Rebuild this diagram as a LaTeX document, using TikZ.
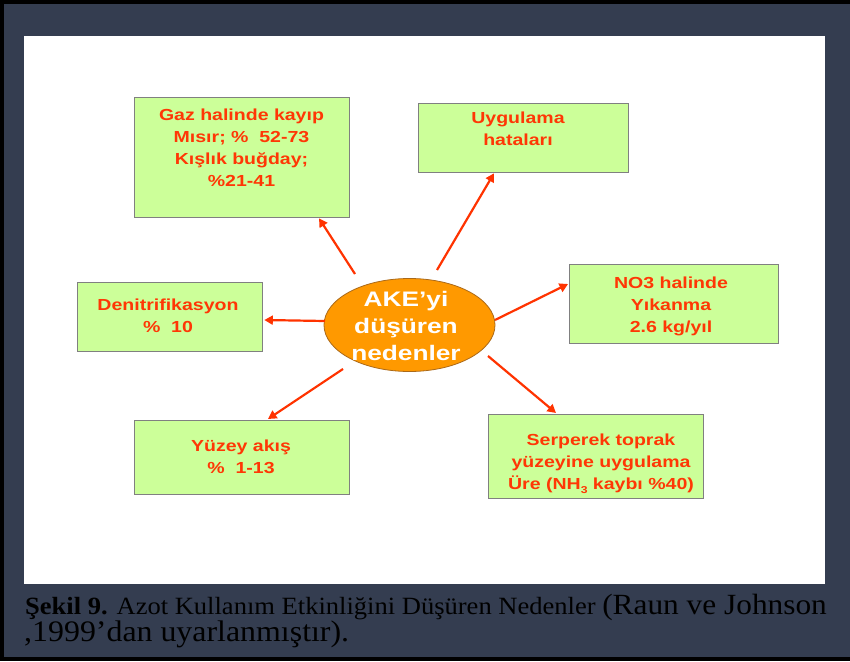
\documentclass[tikz,border=0pt]{standalone}
\usepackage{fontspec}
\setmainfont{Liberation Serif}
\newfontfamily\boxfont[FakeStretch=1.22]{Liberation Sans}
\newfontfamily\ellfont[FakeStretch=1.25]{Liberation Sans}
\newfontfamily\capfont[FakeStretch=1.07]{Liberation Serif}
\usetikzlibrary{shapes.geometric,arrows.meta,calc}
\definecolor{navy}{RGB}{52,61,80}
\definecolor{boxgreen}{RGB}{204,255,153}
\definecolor{boxedge}{RGB}{128,128,128}
\definecolor{redtxt}{RGB}{255,55,5}
\definecolor{arrred}{RGB}{255,51,0}
\definecolor{orangefill}{RGB}{255,153,0}
\definecolor{orangeedge}{RGB}{170,105,25}
\tikzset{
  greenbox/.style={draw=boxedge, line width=1.3pt, fill=boxgreen, rectangle, inner sep=0pt, anchor=north west},
  btxt/.style={text=redtxt, align=center, inner sep=0pt, anchor=north, font=\boxfont\bfseries\fontsize{16}{22}\selectfont},
  etxt/.style={text=white, align=center, inner sep=0pt, anchor=north, font=\ellfont\bfseries\fontsize{21}{27}\selectfont},
  centerell/.style={ellipse, draw=orangeedge, line width=0.8pt, fill=orangefill, inner sep=0pt},
  arr/.style={draw=arrred, line width=2.2pt, -{Triangle[length=8.5pt,width=9pt]}},
  captxt/.style={text=black, inner sep=0pt, anchor=base west}
}
\begin{document}
\begin{tikzpicture}[x=1pt,y=-1pt]
\useasboundingbox (0,0) rectangle (850,661);
% frame
\fill[black] (0,0) rectangle (850,661);
\fill[navy] (4,4) rectangle (850,657);
\fill[white] (24,36) rectangle (825,584);

% boxes
\node[greenbox, minimum width=215pt, minimum height=120pt] (gaz) at (134,97) {};
\node[greenbox, minimum width=210pt, minimum height=69pt] (uyg) at (418,103) {};
\node[greenbox, minimum width=209pt, minimum height=79pt] (no3) at (569,264) {};
\node[greenbox, minimum width=215pt, minimum height=84pt] (ser) at (488,414) {};
\node[greenbox, minimum width=185pt, minimum height=69pt] (den) at (77,282) {};
\node[greenbox, minimum width=215pt, minimum height=74pt] (yuz) at (134,420) {};

% box texts
\node[btxt] (gazt) at (241.5,109) {Gaz halinde kayıp\\Mısır; \%\ \ 52-73\\Kışlık buğday;\\\%21-41};
\node[btxt] (uygt) at (518,111.6) {Uygulama\\hataları};
\node[btxt] (no3t) at (671,276.6) {NO3 halinde\\Yıkanma\\2.6 kg/yıl};
\node[btxt] (sert) at (601,433.3) {Serperek toprak\\yüzeyine uygulama\\Üre (NH\raisebox{-0.3em}{\fontsize{10}{10}\selectfont 3} kaybı \%40)};
\node[btxt] (dent) at (168,298.3) {Denitrifikasyon\\\%\ \ 10};
\node[btxt] (yuzt) at (241,440) {Yüzey akış\\\%\ \ 1-13};

% center ellipse
\node[centerell, minimum width=171pt, minimum height=93pt] (ell) at (409.5,325) {};
\node[etxt] (ellt) at (406,291.4) {AKE’yi\\düşüren\\nedenler};

% arrows
\draw[arr] ($(ell.center)+(-54.5,-51)$) -- ($(gaz.south west)+(185,0)$);
\draw[arr] ($(ell.center)+(27.5,-55)$) -- ($(uyg.south west)+(76,0)$);
\draw[arr] ($(ell.center)+(85.5,-5)$) -- ($(no3.north west)+(-1,20)$);
\draw[arr] ($(ell.center)+(78.5,31)$) -- ($(ser.north west)+(68,-1)$);
\draw[arr] ($(ell.center)+(-84.5,-4)$) -- ($(den.north east)+(1,38)$);
\draw[arr] ($(ell.center)+(-66.5,44)$) -- ($(yuz.north west)+(134,-1)$);

% caption
\node[captxt] (cap1) at (25,614) {\capfont\fontsize{24.8}{27}\selectfont\textbf{Şekil 9.} Azot Kullanım Etkinliğini Düşüren Nedenler \fontsize{29.3}{30}\selectfont(Raun ve Johnson};
\node[captxt] (cap2) at (24,641) {\capfont\fontsize{29.8}{30}\selectfont,1999’dan uyarlanmıştır).};
\end{tikzpicture}
\end{document}
